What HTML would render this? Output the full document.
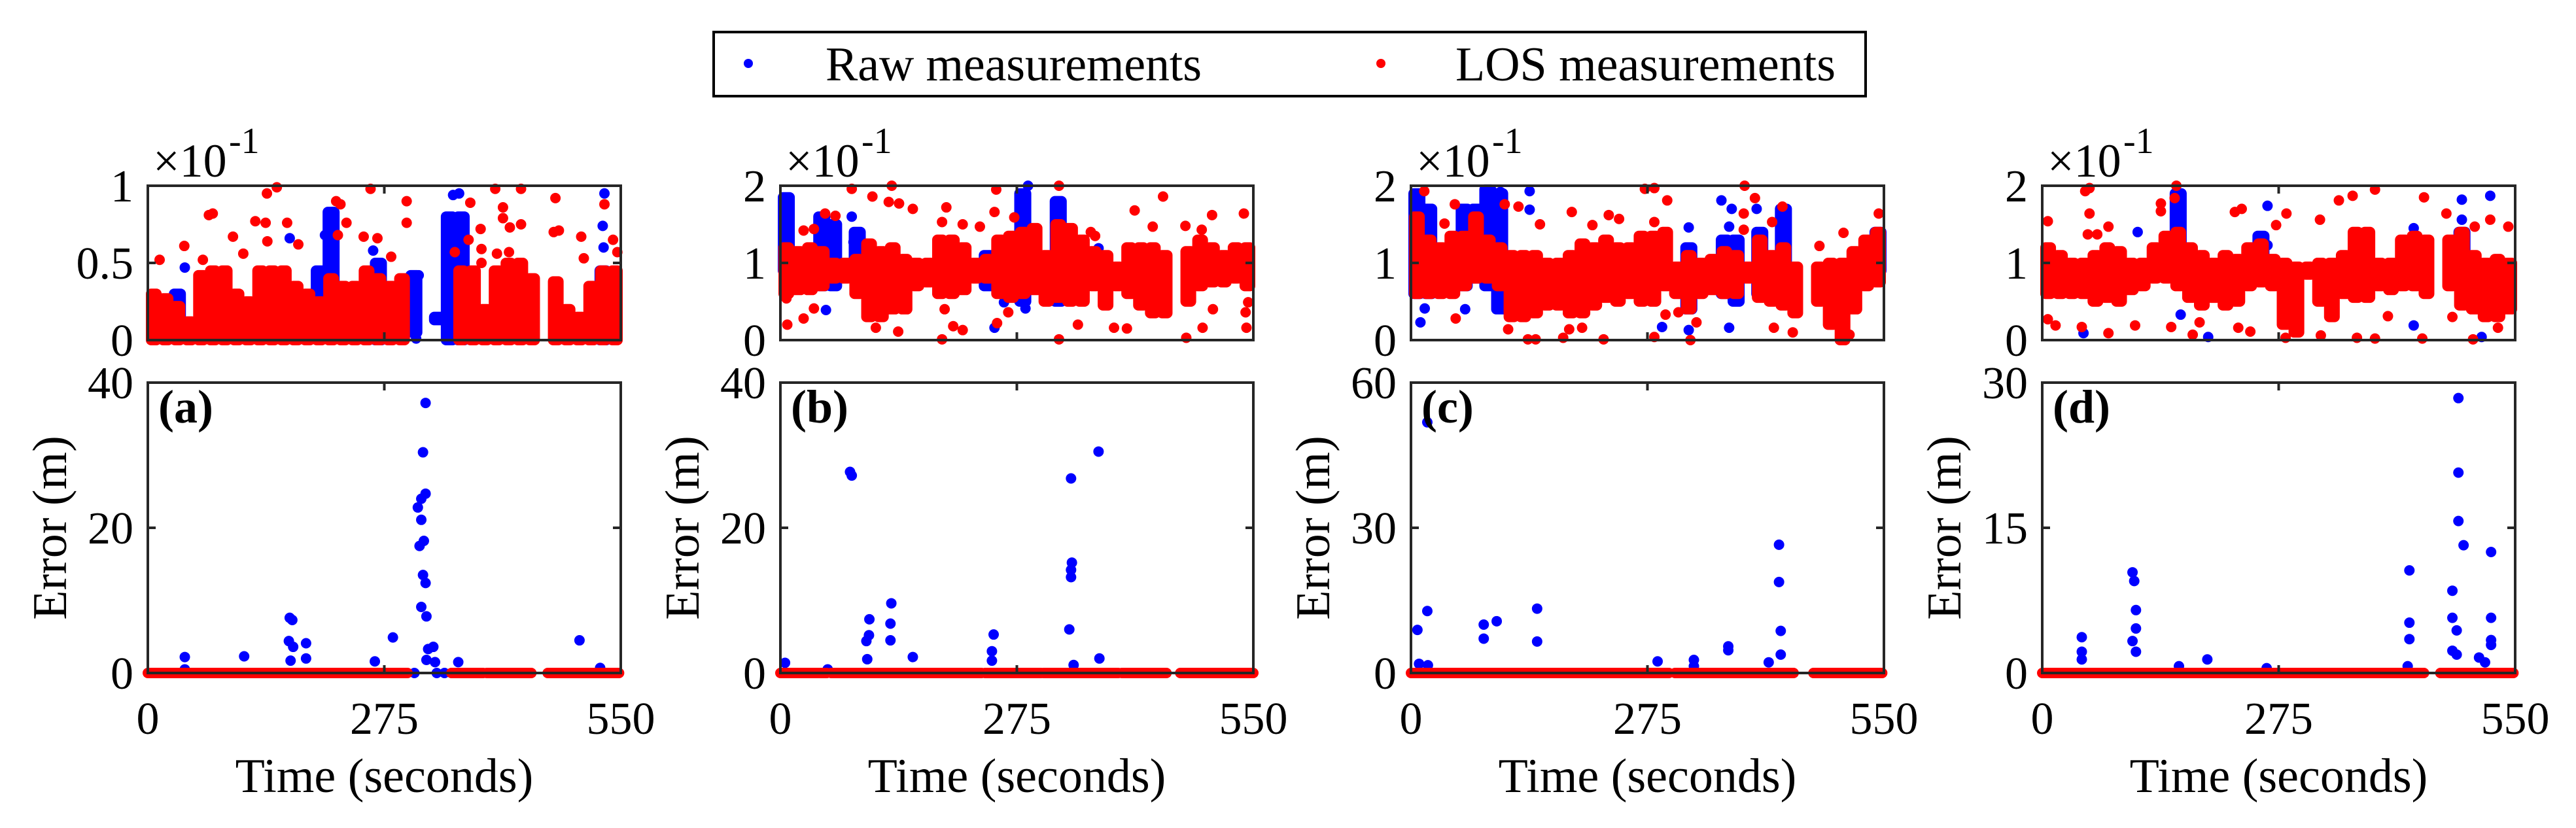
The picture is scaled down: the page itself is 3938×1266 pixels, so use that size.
<!DOCTYPE html>
<html><head><meta charset="utf-8"><style>
html,body{margin:0;padding:0;background:#fff;}
svg{display:block;}
text{font-family:"Liberation Serif","Times New Roman",serif;fill:#000;}
</style></head><body>
<svg id="fig" width="3938" height="1266" viewBox="0 0 3938 1266" xmlns="http://www.w3.org/2000/svg">
<rect x="0" y="0" width="3938" height="1266" fill="#fff"/>
<g>
<rect x="1091" y="49" width="1761" height="98" fill="#fff" stroke="#000" stroke-width="4"/>
<circle cx="1144" cy="97" r="7" fill="#0000ff"/>
<text x="1262" y="123" font-size="74" textLength="575">Raw measurements</text>
<circle cx="2111" cy="97" r="7" fill="#ff0000"/>
<text x="2225" y="123" font-size="74" textLength="581">LOS measurements</text>
</g>
<g id="plots"></g>
</svg>
<script>
// ---------- data ----------
const panelIds = ['a','b','c','d'];
const timeRange = [0, 550];
const xTicks = [0, 275, 550];
const topMax = [1, 2, 2, 2];
const topTicks = [[0,0.5,1],[0,1,2],[0,1,2],[0,1,2]];
const topTickLabels = [['0','0.5','1'],['0','1','2'],['0','1','2'],['0','1','2']];
const botMax = [40, 40, 60, 30];
const botTicks = [[0,20,40],[0,20,40],[0,30,60],[0,15,30]];
const nBins = 40;

// top panels: red/blue dense bands per 13.75 s bin (lo, hi), null = no data
const redLoA = [0,0,0,0,0,0,0,0,0,0,0,0,0,0,0,0,0,0,0,0,0,0,null,null,null,null,0,0,0,0,0,0,0,null,0,0,0,0,0,0];
const redHiA = [0.3,0.27,0.22,0.12,0.42,0.45,0.45,0.3,0.25,0.45,0.45,0.45,0.35,0.3,0.25,0.4,0.35,0.35,0.45,0.4,0.35,0.4,null,null,null,null,0.45,0.45,0.2,0.45,0.5,0.5,0.4,null,0.38,0.2,0.15,0.35,0.45,0.45];
const blueLoA = [null,null,0.05,null,null,null,null,null,null,null,null,null,null,null,0.1,0.1,null,null,null,0,null,null,0.05,null,0.13,0,0,null,null,null,null,null,null,null,null,null,null,null,0,null];
const blueHiA = [null,null,0.3,null,null,null,null,null,null,null,null,null,null,null,0.45,0.83,null,null,null,0.5,null,null,0.42,null,0.15,0.8,0.8,null,null,null,null,null,null,null,null,null,null,null,0.45,null];

const redLoB = [0.6,0.65,0.65,0.7,0.8,0.8,0.6,0.3,0.3,0.4,0.4,0.7,0.75,0.6,0.6,0.65,0.8,0.8,0.6,0.55,0.6,0.65,0.5,0.55,0.5,0.5,0.7,0.45,0.7,0.6,0.45,0.35,0.35,null,0.5,0.7,0.75,0.75,0.8,0.7];
const redHiB = [1.2,1.15,1.2,1.15,1.0,1.0,1.05,1.25,1.15,1.2,1.05,1.0,1.0,1.3,1.3,1.2,1.0,1.05,1.3,1.35,1.4,1.45,1.1,1.5,1.45,1.3,1.15,1.1,0.95,1.2,1.2,1.2,1.1,null,1.15,1.3,1.2,1.1,1.2,1.2];
const blueLoB = [0.9,null,null,0.7,0.7,null,0.8,null,null,null,null,null,null,null,null,null,null,0.7,null,null,0.5,null,null,0.5,null,null,null,null,null,null,null,null,null,null,null,null,null,null,null,null];
const blueHiB = [1.85,null,null,1.6,1.5,null,1.4,null,null,null,null,null,null,null,null,null,null,1.1,null,null,1.9,null,null,1.8,null,null,null,null,null,null,null,null,null,null,null,null,null,null,null,null];

const redLoC = [0.6,0.6,0.6,0.6,0.7,0.8,0.8,0.7,0.3,0.3,0.35,0.45,0.45,0.35,0.35,0.45,0.55,0.5,0.6,0.5,0.5,0.7,0.6,0.4,0.6,0.65,0.6,0.6,0.8,0.55,0.5,0.45,0.35,null,0.5,0.2,0.0,0.4,0.7,0.75];
const redHiC = [1.6,1.3,1.2,1.35,1.35,1.6,1.3,1.2,1.1,1.1,1.1,1.0,1.0,1.1,1.25,1.2,1.3,1.2,1.2,1.35,1.35,1.4,0.95,1.1,1.0,1.05,1.15,1.1,0.95,1.3,1.1,1.2,0.95,null,0.95,1.0,1.0,1.15,1.3,1.4];
const blueLoC = [0.6,0.6,null,null,0.7,0.8,0.7,0.4,null,null,null,null,null,null,null,null,null,null,null,null,null,null,null,0.4,null,null,0.6,0.5,null,0.6,null,0.5,null,null,null,null,null,null,null,0.9];
const blueHiC = [1.9,1.7,null,null,1.7,1.7,1.95,1.9,null,null,null,null,null,null,null,null,null,null,null,null,null,null,null,1.2,null,null,1.3,1.3,null,1.4,null,1.7,null,null,null,null,null,null,null,1.4];

const redLoD = [0.6,0.6,0.6,0.6,0.5,0.55,0.5,0.65,0.7,0.8,0.8,0.7,0.55,0.45,0.55,0.45,0.5,0.7,0.75,0.7,0.2,0.1,0.85,0.5,0.3,0.6,0.55,0.55,0.7,0.65,0.7,0.7,0.6,null,0.7,0.45,0.4,0.3,0.3,0.4];
const redHiD = [1.2,1.1,1.0,1.0,1.1,1.2,1.15,1.0,1.0,1.2,1.35,1.4,1.2,1.1,1.0,1.1,1.05,1.2,1.25,1.05,1.0,0.95,0.95,1.0,1.0,1.1,1.4,1.4,1.0,1.0,1.3,1.35,1.3,null,1.3,1.4,1.1,1.0,1.05,1.0];
const blueLoD = [null,null,null,null,null,null,null,null,null,null,null,0.8,null,null,null,null,null,null,0.8,null,null,null,null,null,null,null,null,null,null,null,null,null,null,null,null,0.7,null,null,null,null];
const blueHiD = [null,null,null,null,null,null,null,null,null,null,null,1.9,null,null,null,null,null,null,1.35,null,null,null,null,null,null,null,null,null,null,null,null,null,null,null,null,1.4,null,null,null,null];

// top panels: scattered outliers (time s, value)
const redOutTA = [13.7,42.4,64,71,75.5,99,111,125,137,138.5,150,139,162,175,219,224,231,221,251,267,259,301,301,283,375,387,388,388,404,413,413,421,434,434,406,420,474,472,478,504,507,531,541,546,373,357];
const redOutVA = [0.52,0.61,0.52,0.81,0.82,0.67,0.56,0.77,0.76,0.95,0.99,0.64,0.76,0.62,0.9,0.88,0.76,0.68,0.67,0.66,0.98,0.9,0.76,0.54,0.89,0.72,0.59,0.5,0.98,0.86,0.79,0.73,0.98,0.75,0.56,0.57,0.92,0.7,0.71,0.67,0.53,0.88,0.65,0.57,0.65,0.57];
const blueOutTA = [165,43,206,262,315,312,355,362,531,529,530,215];
const blueOutVA = [0.66,0.47,0.68,0.58,0.42,0.01,0.94,0.95,0.95,0.74,0.6,0.83];

const redOutTB = [83,129.5,107,126,138,154,193,188,212,232,251,249,272,324,445,412,433,471,490,502,539,52,64,27,39,8,27,7,39,137,111,188,201,212,252,265,324,346,388,403,472,491,542,503,541,544,191,361,366];
const redOutVB = [1.96,2.0,1.86,1.79,1.77,1.7,1.72,1.53,1.5,1.47,1.95,1.66,1.59,2.0,1.86,1.68,1.47,1.48,1.43,1.62,1.64,1.64,1.61,1.42,1.44,0.2,0.28,0.54,0.41,0.11,0.16,0.01,0.18,0.13,0.22,0.36,0.01,0.2,0.16,0.15,0.03,0.16,0.16,0.4,0.36,0.49,0.4,1.4,1.35];
const blueOutTB = [288,53,260,285,249,370,83,85];
const blueOutVB = [2.0,0.39,0.49,0.41,0.16,1.19,1.6,1.27];

const redOutTC = [15.5,51,39,150,187,230,242,211,272,283,298,283,388,400,387,387,432,420,503,544,475,125,109,52,113,136,145,177,184,199,224,283,325,332,422,444,510,503,296,311];
const redOutVC = [1.93,1.76,1.51,1.5,1.66,1.62,1.57,1.49,1.96,1.97,1.81,1.53,2.0,1.84,1.64,1.43,1.73,1.53,1.39,1.64,1.22,1.73,1.76,0.28,0.14,0.01,0.01,0.03,0.14,0.16,0.01,0.04,0,0.23,0.16,0.1,0.07,0,0.33,0.36];
const blueOutTC = [138,138,361,373,323,370,370,323,292,11,16,63,402,104];
const blueOutVC = [1.93,1.69,1.81,1.7,1.46,1.47,0.16,0.13,0.17,0.23,0.41,0.4,1.7,1.92];

const redOutTD = [6.5,50,55,55,77,53,64,156,154,138,138,224,232,284,272,323,345,361,387,444,470,503,521,542,6.5,15.5,46,77,108,150,175,183,242,228,283,324,366,387,442,402,477,501,530];
const redOutVD = [1.54,1.93,1.97,1.64,1.47,1.37,1.37,2.0,1.84,1.77,1.67,1.66,1.7,1.64,1.49,1.56,1.81,1.87,1.95,1.85,1.64,1.47,1.56,1.47,0.27,0.19,0.17,0.09,0.19,0.17,0.07,0.23,0.11,0.16,0.03,0.06,0.03,0.02,0.02,0.31,0.3,0.01,0.16];
const blueOutTD = [111,262,488,521,488,161,48,193,432,511,432,262];
const blueOutVD = [1.4,1.74,1.82,1.87,1.56,0.33,0.09,0.04,0.19,0.04,1.45,1.23];

// bottom panels: raw (blue) error points and LOS (red) runs at ~0 m
const errTA = [43,43,112,165,168,164,169,184,184,166,264,285,323,320,323,318,314,318,321,316,320,323,318,324,326,332,324,334,336,310,345,361,502,526,204];
const errVA = [2.2,0.5,2.3,7.6,7.3,4.4,3.6,4.1,2.0,1.7,1.6,4.9,37.2,30.4,24.7,24,22.8,21.1,18.2,17.5,13.5,12.4,9.1,7.8,3.3,3.6,1.8,1.5,0,0,0,1.5,4.5,0.7,0];
const errTB = [5.4,81,83,103.5,103,100,101,129,128,128,154,248,246,246,370,338,339,338,338,336,341,371,55];
const errVB = [1.4,27.7,27.2,7.4,5.2,4.4,1.9,9.6,6.8,4.5,2.2,5.3,3.0,1.7,30.5,26.8,15.2,14.2,13.2,6.0,1.1,2.0,0.5];
const errTC = [19,7.5,19,9.4,19.7,84.6,84.6,99.7,146.7,146.7,286.8,329,369,369,428,428,430,430,416,329];
const errVC = [51.8,8.9,12.8,1.9,1.6,10,7.1,10.7,13.3,6.5,2.4,2.7,5.5,4.7,26.5,18.8,8.7,3.8,2.2,1.4];
const errTD = [46,46,46,105,107,109,109,105,109,159,192,261,427,427,427,425,484,484,484,490,477,477,482,477,482,522,522,522,522,508,515];
const errVD = [3.7,2.2,1.4,10.4,9.5,6.5,4.6,3.3,2.2,0.7,1.4,0.5,10.6,5.2,3.5,0.7,28.4,20.7,15.7,13.2,8.5,5.7,4.4,2.3,1.9,12.5,5.7,3.4,2.9,1.6,1.1];
const losStartA = [0,353,394,465];
const losEndA = [302,390,446,548];
const losStartB = [0,59,238,306,397,465];
const losEndB = [54,234,303,393,449,550];
const losStartC = [0,307,468];
const losEndC = [300,445,548];
const losStartD = [0,463];
const losEndD = [444,548];

// ---------- drawing ----------
const NS = 'http://www.w3.org/2000/svg';
const plots = document.getElementById('plots');
const panelLeft = [226, 1193, 2157, 3122];
const panelW = 723;
const topY0 = 284, topY1 = 520, botY0 = 585, botY1 = 1029;
const R = 8;
const BLUE = '#0000ff', RED = '#ff0000', AX = '#262626';

const topData = [
  [redLoA, redHiA, blueLoA, blueHiA, redOutTA, redOutVA, blueOutTA, blueOutVA],
  [redLoB, redHiB, blueLoB, blueHiB, redOutTB, redOutVB, blueOutTB, blueOutVB],
  [redLoC, redHiC, blueLoC, blueHiC, redOutTC, redOutVC, blueOutTC, blueOutVC],
  [redLoD, redHiD, blueLoD, blueHiD, redOutTD, redOutVD, blueOutTD, blueOutVD]
];
const botData = [
  [errTA, errVA, losStartA, losEndA],
  [errTB, errVB, losStartB, losEndB],
  [errTC, errVC, losStartC, losEndC],
  [errTD, errVD, losStartD, losEndD]
];

function mk(tag, attrs, parent) {
  const e = document.createElementNS(NS, tag);
  for (const k in attrs) e.setAttribute(k, attrs[k]);
  parent.appendChild(e);
  return e;
}
function txt(str, attrs, parent) {
  const e = mk('text', attrs, parent);
  e.textContent = str;
  return e;
}

function drawAxesBox(g, left, y0, y1, ticks, tmax, labels, sx) {
  const sy = v => y1 - (v / tmax) * (y1 - y0);
  const box = mk('rect', {x:left, y:y0, width:panelW, height:y1-y0, fill:'none', stroke:AX, 'stroke-width':4}, g);
  
  
  ticks.forEach((v, i) => {
    const y = sy(v);
    if (v !== 0 && v !== tmax) {
      mk('line', {x1:left, y1:y, x2:left+12, y2:y, stroke:AX, 'stroke-width':4}, g);
      mk('line', {x1:left+panelW, y1:y, x2:left+panelW-12, y2:y, stroke:AX, 'stroke-width':4}, g);
    }
    const t = txt(labels[i], {x:left-22, y:y+24, 'font-size':70, 'text-anchor':'end'}, g);
    
    
  });
  const xm = sx(xTicks[1]);
  mk('line', {x1:xm, y1:y0, x2:xm, y2:y0+12, stroke:AX, 'stroke-width':4}, g);
  mk('line', {x1:xm, y1:y1, x2:xm, y2:y1-12, stroke:AX, 'stroke-width':4}, g);
  return sy;
}

panelIds.forEach((pid, p) => {
  const left = panelLeft[p];
  const sx = t => left + (t - timeRange[0]) / (timeRange[1] - timeRange[0]) * panelW;
  const binW = (timeRange[1] - timeRange[0]) / nBins;

  // ----- top panel -----
  const gt = mk('g', {}, plots);
  
  
  const [rLo, rHi, bLo, bHi, rOT, rOV, bOT, bOV] = topData[p];
  const tmax = topMax[p];
  const syT = v => topY1 - (v / tmax) * (topY1 - topY0);
  bLo.forEach((lo, i) => {
    if (lo === null) return;
    const x0 = sx(i * binW) - 4, x1 = sx((i + 1) * binW) + 4;
    const r = mk('rect', {x:x0, y:syT(bHi[i]) - R, width:x1 - x0, height:syT(lo) - syT(bHi[i]) + 2*R, rx:R, fill:BLUE}, gt);
    
    
  });
  bOT.forEach((t, i) => {
    const c = mk('circle', {cx:sx(t), cy:syT(bOV[i]), r:R, fill:BLUE}, gt);
    
    
  });
  rLo.forEach((lo, i) => {
    if (lo === null) return;
    const x0 = sx(i * binW) - 3, x1 = sx((i + 1) * binW) + 3;
    const r = mk('rect', {x:x0, y:syT(rHi[i]) - R, width:x1 - x0, height:syT(lo) - syT(rHi[i]) + 2*R, rx:R, fill:RED}, gt);
    
    
  });
  rOT.forEach((t, i) => {
    const c = mk('circle', {cx:sx(t), cy:syT(rOV[i]), r:R, fill:RED}, gt);
    
    
  });
  drawAxesBox(gt, left, topY0, topY1, topTicks[p], tmax, topTickLabels[p], sx);
  const mult = txt('×10', {x:left+8, y:270, 'font-size':72}, gt);
  
  
  const sup = txt('-1', {x:left+124, y:234, 'font-size':56}, gt);
  
  

  // ----- bottom panel -----
  const gb = mk('g', {}, plots);
  
  
  const [eT, eV, lS, lE] = botData[p];
  const bmax = botMax[p];
  const syB = v => botY1 - (v / bmax) * (botY1 - botY0);
  eT.forEach((t, i) => {
    const c = mk('circle', {cx:sx(t), cy:syB(eV[i]), r:R, fill:BLUE}, gb);
    
    
  });
  lS.forEach((s, i) => {
    const x0 = sx(s) - R, x1 = sx(lE[i]) + R;
    const r = mk('rect', {x:x0, y:syB(0) - R, width:x1 - x0, height:2*R, rx:R, fill:RED}, gb);
    
    
  });
  drawAxesBox(gb, left, botY0, botY1, botTicks[p], bmax, botTicks[p].map(String), sx);
  xTicks.forEach(t => {
    const l = txt(String(t), {x:sx(t), y:1122, 'font-size':70, 'text-anchor':'middle'}, gb);
    
    
  });
  const xl = txt('Time (seconds)', {x:left + panelW/2, y:1211, 'font-size':74, 'text-anchor':'middle'}, gb);
  
  
  const yl = txt('Error (m)', {x:0, y:0, 'font-size':74, 'text-anchor':'middle', 'dominant-baseline':'central', transform:'translate(' + (left - 149) + ',807) rotate(-90)'}, gb);
  
  
  const pl = txt('(' + pid + ')', {x:left + 16, y:646, 'font-size':72, 'font-weight':'bold'}, gb);
  
  
});
</script>
</body></html>
